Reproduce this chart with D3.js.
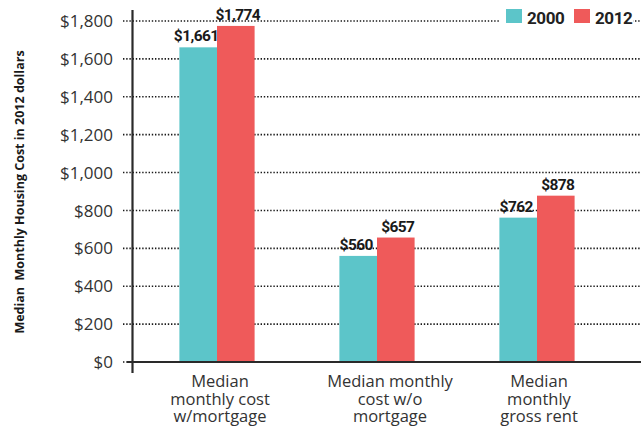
<!DOCTYPE html>
<html>
<head>
<meta charset="utf-8">
<script src="https://cdn.jsdelivr.net/npm/d3@7"></script>
<style>
  body { margin: 0; background: #fff; }
  svg { display: block; }
</style>
</head>
<body>
<div id="chart"></div>
<script>
const categories = [
  ["Median", "monthly cost", "w/mortgage"],
  ["Median monthly", "cost w/o", "mortgage"],
  ["Median", "monthly", "gross rent"]
]
const series = ["2000", "2012"]
const values2000 = [1661, 560, 762]
const values2012 = [1774, 657, 878]
const yTicks = [0, 200, 400, 600, 800, 1000, 1200, 1400, 1600, 1800]
const colors = ["#5cc5c9", "#ef5a5a"]

const W = 641, H = 431
const svg = d3.select("#chart").append("svg")
    .attr("width", W).attr("height", H)

const y = d3.scaleLinear().domain([0, 1800]).range([362, 21])
const x0 = d3.scaleBand().domain(d3.range(categories.length))
    .range([137, 617]).paddingInner(0.53).paddingOuter(0.265)
const x1 = d3.scaleBand().domain(series).range([0, x0.bandwidth()])

const fmt = d => "$" + d3.format(",")(d)

// dotted grid lines
svg.append("g")
  .selectAll("line")
  .data(yTicks)
  .join("line")
    .attr("x1", 123).attr("x2", 641)
    .attr("y1", d => y(d)).attr("y2", d => y(d))
    .attr("stroke", "#1a1a1a")
    .attr("stroke-width", 1.6)
    .attr("stroke-dasharray", "1.4,1.8")

// y tick labels
svg.append("g")
  .selectAll("text")
  .data(yTicks)
  .join("text")
    .attr("x", 113).attr("y", d => y(d))
    .attr("dy", "0.36em")
    .attr("text-anchor", "end")
    .attr("font-family", "Open Sans")
    .attr("font-size", 17)
    .attr("fill", "#333")
    .text(fmt)

// bars
const rows = categories.map((c, i) => [values2000[i], values2012[i]])
const groups = svg.append("g")
  .selectAll("g")
  .data(rows)
  .join("g")
    .attr("transform", (d, i) => `translate(${x0(i)},0)`)

groups.selectAll("rect")
  .data(d => d.map((v, j) => ({v, s: series[j], j})))
  .join("rect")
    .attr("x", d => x1(d.s))
    .attr("y", d => y(d.v))
    .attr("width", x1.bandwidth())
    .attr("height", d => y(0) - y(d.v))
    .attr("fill", d => colors[d.j])

groups.selectAll("text")
  .data(d => d.map((v, j) => ({v, s: series[j], j})))
  .join("text")
    .attr("x", d => x1(d.s) + x1.bandwidth() / 2 + (d.j === 0 ? -2 : 2))
    .attr("y", d => y(d.v) - 6)
    .attr("text-anchor", "middle")
    .attr("font-family", "Roboto")
    .attr("font-weight", "bold")
    .attr("font-size", 15.5)
    .attr("letter-spacing", -0.6)
    .attr("fill", "#1a1a1a")
    .text(d => fmt(d.v))

// axes lines
svg.append("line")
    .attr("x1", 132.5).attr("x2", 132.5).attr("y1", 10).attr("y2", 373)
    .attr("stroke", "#2a2a2a").attr("stroke-width", 2.2)
svg.append("line")
    .attr("x1", 127).attr("x2", 641).attr("y1", y(0)).attr("y2", y(0))
    .attr("stroke", "#2a2a2a").attr("stroke-width", 2)

// category labels, one text per line
const labelLines = categories.flatMap((lines, i) =>
  lines.map((t, k) => ({t, i, k})))
svg.append("g")
  .selectAll("text")
  .data(labelLines)
  .join("text")
    .attr("x", d => x0(d.i) + x0.bandwidth() / 2 + (d.i === 1 ? 13 : d.i === 2 ? 2 : 3))
    .attr("y", d => 387 + d.k * 17.5)
    .attr("text-anchor", "middle")
    .attr("font-family", "Open Sans")
    .attr("font-size", 16.5)
    .attr("fill", "#333")
    .text(d => d.t)

// y axis title
svg.append("text")
    .attr("transform", "translate(24,192) rotate(-90)")
    .attr("text-anchor", "middle")
    .attr("font-family", "Open Sans")
    .attr("font-weight", "bold")
    .attr("font-size", 12.5)
    .attr("fill", "#1a1a1a")
    .attr("xml:space", "preserve")
    .text("Median  Monthly Housing Cost in 2012 dollars")

// legend, with a white backing that breaks the top grid line
const legend = svg.append("g")
legend.append("rect")
    .attr("x", 499).attr("y", 4).attr("width", 134).attr("height", 26)
    .attr("fill", "#fff")
const lx = [506, 574]
series.forEach((s, i) => {
  legend.append("rect")
      .attr("x", lx[i]).attr("y", 9).attr("width", 16).attr("height", 14)
      .attr("fill", colors[i])
  legend.append("text")
      .attr("x", lx[i] + 21).attr("y", 23.5)
      .attr("font-family", "Roboto")
      .attr("font-weight", "bold")
      .attr("font-size", 17)
      .attr("letter-spacing", -0.4)
      .attr("fill", "#222")
      .text(s)
})
</script>
</body>
</html>
